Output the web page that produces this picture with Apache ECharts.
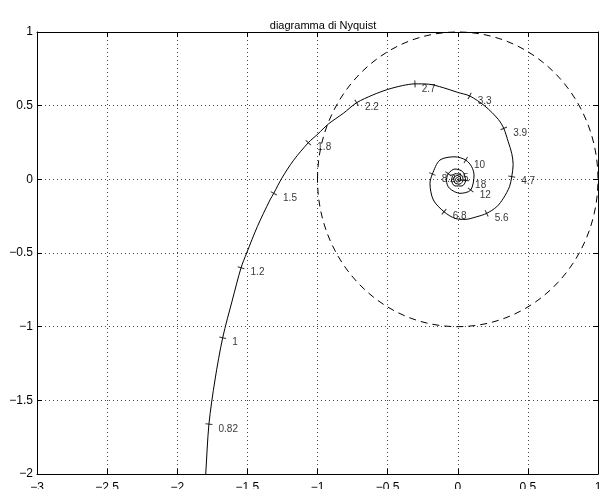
<!DOCTYPE html>
<html>
<head>
<meta charset="utf-8">
<script src="https://cdn.jsdelivr.net/npm/echarts@6/dist/echarts.min.js"></script>
<style>
  html, body { margin: 0; padding: 0; background: #fff; }
  #chart { width: 600px; height: 489px; }
</style>
</head>
<body>
<div id="chart"></div>
<script>
// Nyquist curve [Re, Im], low -> high frequency
const curvePoints = [
  [-1.804, -2.10], [-1.797, -2.00], [-1.774, -1.661], [-1.731, -1.362],
  [-1.676, -1.075], [-1.607, -0.819], [-1.545, -0.600], [-1.505, -0.500],
  [-1.429, -0.321], [-1.339, -0.140], [-1.312, -0.095], [-1.255, 0.007],
  [-1.170, 0.130], [-1.065, 0.249], [-0.997, 0.308], [-0.922, 0.376],
  [-0.816, 0.448], [-0.721, 0.520], [-0.607, 0.572], [-0.500, 0.610],
  [-0.395, 0.636], [-0.305, 0.648], [-0.210, 0.646], [-0.103, 0.622],
  [0.000, 0.590], [0.085, 0.566], [0.194, 0.497], [0.289, 0.407],
  [0.328, 0.346], [0.360, 0.255], [0.385, 0.176], [0.395, 0.100],
  [0.385, 0.018], [0.369, -0.050], [0.325, -0.129], [0.278, -0.186],
  [0.206, -0.231], [0.135, -0.254], [0.052, -0.272], [-0.020, -0.265],
  [-0.098, -0.220], [-0.174, -0.140], [-0.198, -0.027], [-0.181, 0.036],
  [-0.127, 0.131], [-0.020, 0.153], [0.057, 0.131], [0.099, 0.086],
  [0.116, 0.030], [0.092, -0.073], [0.016, -0.095], [-0.060, -0.060],
  [-0.080, -0.010], [-0.068, 0.038], [-0.020, 0.070], [0.035, 0.052],
  [0.056, -0.008], [0.030, -0.045], [-0.020, -0.045], [-0.045, -0.005],
  [-0.020, 0.038], [0.025, 0.030], [0.038, -0.005], [0.015, -0.032],
  [-0.020, -0.025], [-0.028, 0.008], [-0.005, 0.026], [0.020, 0.012],
  [0.018, -0.012], [-0.005, -0.018], [-0.016, 0.000], [-0.004, 0.012],
  [0.008, 0.006], [0.006, -0.005], [-0.003, -0.004], [0.000, 0.000]
];

// frequency markers on the curve
const markerFreqs = ['0.82', '1', '1.2', '1.5', '1.8', '2.2', '2.7', '3.3', '3.9',
  '4.7', '5.6', '6.8', '8.2', '10', '12', '15', '18'];
const markerPoints = [
  [-1.774, -1.661], [-1.676, -1.075], [-1.545, -0.600], [-1.312, -0.095],
  [-1.065, 0.249], [-0.721, 0.520], [-0.305, 0.648], [0.085, 0.566],
  [0.328, 0.346], [0.385, 0.018], [0.206, -0.231], [-0.098, -0.220],
  [-0.181, 0.036], [0.057, 0.131], [0.092, -0.073], [-0.068, 0.038],
  [0.056, -0.008]
];

// reference circle: centre Re, centre Im, radius
const unitCircle = [[0, 0, 1]];

const xMin = -3, xMax = 1, xStep = 0.5;
const yMin = -2, yMax = 1, yStep = 0.5;

const gridBox = { left: 37, right: 2, top: 32, bottom: 15 };
const pxPerX = (600 - gridBox.left - gridBox.right) / (xMax - xMin);
const pxPerY = (489 - gridBox.top - gridBox.bottom) / (yMax - yMin);

const FONT = '"Liberation Sans", Arial, Helvetica, sans-serif';

function fmt(v) {
  return String(v).replace('-', '\u2212');
}

// tick marks are drawn across the curve, so they follow its direction
function tickAngle(p) {
  let best = 0, bestD = Infinity;
  curvePoints.forEach((c, i) => {
    const d = Math.abs(c[0] - p[0]) + Math.abs(c[1] - p[1]);
    if (d < bestD) { bestD = d; best = i; }
  });
  const a = curvePoints[Math.max(best - 1, 0)];
  const b = curvePoints[Math.min(best + 1, curvePoints.length - 1)];
  return Math.atan2((b[1] - a[1]) * pxPerY, (b[0] - a[0]) * pxPerX) * 180 / Math.PI;
}

const markerData = markerPoints.map((p, i) => ({
  name: markerFreqs[i],
  value: p,
  symbolRotate: tickAngle(p)
}));

const axisLine = { show: true, onZero: false, lineStyle: { color: '#000', width: 1 } };
const axisTick = { show: true, inside: true, length: 5, lineStyle: { color: '#000' } };
const gridLine = { show: true, lineStyle: { color: '#444', width: 1, type: [1, 3] } };

const chart = echarts.init(document.getElementById('chart'));
chart.setOption({
  animation: false,
  backgroundColor: '#fff',
  title: {
    text: 'diagramma di Nyquist',
    left: 318,
    textAlign: 'center',
    top: 15,
    textStyle: { fontFamily: FONT, fontSize: 11, fontWeight: 'normal', color: '#000' }
  },
  grid: Object.assign({ outerBoundsMode: 'none', containLabel: false }, gridBox),
  xAxis: [
    {
      type: 'value', min: xMin, max: xMax, interval: xStep, position: 'bottom',
      axisLine: axisLine, axisTick: axisTick, splitLine: gridLine,
      axisLabel: { formatter: fmt, color: '#000', fontSize: 12, fontFamily: FONT, margin: 8,
        showMinLabel: true, showMaxLabel: true }
    },
    {
      type: 'value', min: xMin, max: xMax, interval: xStep, position: 'top',
      axisLine: axisLine, axisTick: axisTick, splitLine: { show: false },
      axisLabel: { show: false }
    }
  ],
  yAxis: [
    {
      type: 'value', min: yMin, max: yMax, interval: yStep, position: 'left',
      axisLine: axisLine, axisTick: axisTick, splitLine: gridLine,
      axisLabel: { formatter: fmt, color: '#000', fontSize: 12, fontFamily: FONT, margin: 4,
        showMinLabel: true, showMaxLabel: true }
    },
    {
      type: 'value', min: yMin, max: yMax, interval: yStep, position: 'right',
      axisLine: axisLine, axisTick: axisTick, splitLine: { show: false },
      axisLabel: { show: false }
    }
  ],
  series: [
    {
      // dashed unit circle
      type: 'custom',
      data: unitCircle,
      encode: { x: 0, y: 1 },
      silent: true,
      z: 2,
      renderItem: function (params, api) {
        const c = api.coord([api.value(0), api.value(1)]);
        const s = api.size([api.value(2), api.value(2)]);
        return {
          type: 'ellipse',
          shape: { cx: c[0], cy: c[1], rx: s[0], ry: s[1] },
          style: { fill: 'none', stroke: '#000', lineWidth: 1, lineDash: [7, 5] }
        };
      }
    },
    {
      type: 'line',
      data: curvePoints,
      showSymbol: false,
      smooth: 0.3,
      clip: true,
      z: 3,
      lineStyle: { color: '#000', width: 1 }
    },
    {
      type: 'scatter',
      data: markerData,
      symbol: 'rect',
      symbolSize: [1, 7],
      z: 4,
      itemStyle: { color: '#000' },
      label: {
        show: true,
        formatter: '{b}',
        position: 'right',
        distance: 6,
        offset: [0, 5],
        color: '#000',
        fontSize: 10,
        fontFamily: FONT
      }
    }
  ]
});
</script>
</body>
</html>
